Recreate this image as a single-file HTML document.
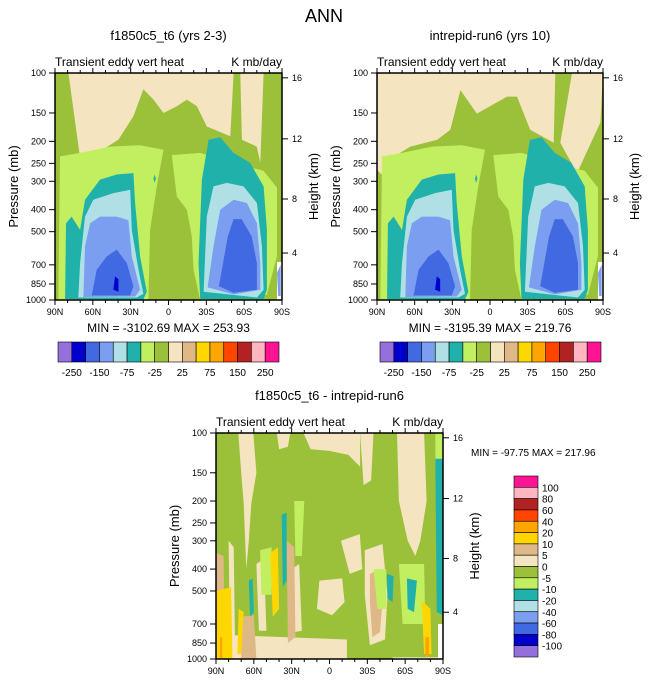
<!DOCTYPE html>
<html><head><meta charset="utf-8"><style>
html,body{margin:0;padding:0;background:#fff;}
svg{display:block;font-family:"Liberation Sans",Arial,sans-serif;}
</style></head><body>
<svg id="fig" width="648" height="684" viewBox="0 0 648 684" xmlns="http://www.w3.org/2000/svg">
<text x="324" y="22" font-size="18" text-anchor="middle">ANN</text>
</svg>
<script>
// ---- data ----
const latTicks = [90, 60, 30, 0, -30, -60, -90];
const latTickLabels = ["90N","60N","30N","0","30S","60S","90S"];
const presTicks = [100,150,200,250,300,400,500,700,850,1000];
const heightTicks = [16,12,8,4];
const heightTickPres = [105,195,359,621];
const cbLevelsTop = ["-250","-150","-75","-25","25","75","150","250"];
const cbColorsTop = ["#9370db","#0000cd","#4169e1","#7b9ef0","#b0e0e6","#20b2aa","#c1ef60","#9bc13a","#f5e4c0","#deb887","#ffd700","#ffa500","#ff4500","#b22222","#ffb6c1","#ff1493"];
const cbLevelsDiff = ["100","80","60","40","20","10","5","0","-5","-10","-20","-40","-60","-80","-100"];
const minMax = ["MIN = -3102.69  MAX = 253.93","MIN = -3195.39  MAX = 219.76","MIN = -97.75  MAX = 217.96"];

// contour regions: [color, [[lat,p],...]]
const wheatA = [[79.4,100],[70.1,237],[54.3,221],[39.7,197],[27.8,155],[19.9,118],[11.9,131],[4,150],[-6.6,140],[-14.6,131],[-22.5,140],[-30.4,172],[-49,190],[-51.6,100]];
const wheatA2 = [[-56.9,100],[-58.2,197],[-70,211],[-72.8,249],[-75.4,100]];
const wheatB = [[90,100],[90,267],[84.7,286],[76.7,234],[63.5,211],[42,197],[31.6,178],[23.6,119],[10.4,151],[-13.5,127],[-21.5,127],[-32,178],[-50.7,203],[-52,100]];
const wheatB2 = [[-65.3,100],[-56,203],[-69.3,276],[-87.9,165],[-90,100]];
const lgLeft = [[87.4,1000],[86,233],[70.1,225],[46.3,211],[22.5,208],[4,218],[9.3,316],[14.6,491],[15.9,1000]];
const lgRight = [[-2.6,230],[-25.1,225],[-51.6,249],[-75.4,270],[-86,320],[-86,640],[-78,950],[-25.1,1000],[-19.8,736],[-18.5,525],[-14.6,400],[-6.6,350]];
const tealL = [[82,990],[81.3,459],[76.8,429],[70.1,491],[66.2,362],[54.3,295],[41,280],[27.8,276],[26.5,374],[22.5,643],[17.2,920],[20,995]];
const lblueL = [[71.5,975],[70.1,688],[66.2,429],[59.6,362],[43.7,338],[30.4,327],[29.1,491],[23.8,736],[19.9,940],[25.2,975]];
const cornL = [[67.5,970],[66.2,580],[62.2,459],[54.3,429],[41,429],[31.8,445],[29.1,643],[22.5,902],[26.5,965]];
const royalL = [[60.9,955],[56.9,736],[49,643],[41,600],[33.1,688],[27.8,870],[30.4,955]];
const dkL = [[43.7,902],[42.4,787],[39.7,810],[39.7,920]];
const tealR = [[-25.1,990],[-23.8,688],[-26.5,295],[-31.8,197],[-41,192],[-51.6,225],[-64.8,249],[-75.4,316],[-78,491],[-78,902],[-75.4,990]];
const lblueR = [[-27.8,920],[-30.4,429],[-35.7,316],[-46.4,305],[-59.5,316],[-70.1,374],[-74.1,580],[-75.4,902],[-70.1,975]];
const cornR = [[-31,880],[-35.7,580],[-41,400],[-51.6,362],[-62.2,374],[-70.1,459],[-72.8,688],[-72.8,902],[-51.6,945]];
const royalR = [[-40,870],[-47,525],[-51.6,440],[-58,440],[-66,525],[-70.1,688],[-70.1,902],[-51.6,930]];
const whiteR = [[-86,680],[-90,680],[-90,1000],[-86,1000]];
const topRegions = [
  ["#c1ef60", lgLeft],["#c1ef60", lgRight],
  ["#20b2aa", tealL],["#b0e0e6", lblueL],["#7b9ef0", cornL],["#4169e1", royalL],["#0000cd", dkL],
  ["#20b2aa", tealR],["#b0e0e6", lblueR],["#7b9ef0", cornR],["#4169e1", royalR],
  ["#20b2aa", [[12,292],[11,280],[10,292],[11,305]]],
  ["#ffffff", whiteR],["#7b9ef0",[[-86,760],[-89,700],[-89,960],[-87,960]]]
];
const diffRegions = [
  ["#f5e4c0", [[72.3,100],[60.4,100],[58,150],[62,205],[64,300],[66,400],[68,205],[70,150]]],
  ["#f5e4c0", [[41.8,100],[31.2,100],[33,115],[40,118]]],
  ["#f5e4c0", [[20.6,100],[-24.3,100],[-24.3,141],[-15,125],[0,120],[15,118]]],
  ["#f5e4c0", [[-24.3,100],[-34.9,100],[-33,162],[-27,170]]],
  ["#f5e4c0", [[-53.5,100],[-75,100],[-77,200],[-72,300],[-68,350],[-62,300],[-55,200]]],
  ["#f5e4c0", [[8,450],[-10,440],[-12,560],[-2,640],[10,600]]],
  ["#f5e4c0", [[-9,300],[-24,280],[-26,400],[-16,420]]],
  ["#f5e4c0", [[80,300],[76,320],[75,800],[79,800]]],
  ["#f5e4c0", [[58,380],[52,360],[50,750],[56,750]]],
  ["#f5e4c0", [[30,400],[24,380],[22,750],[28,760]]],
  ["#f5e4c0", [[-28,330],[-42,310],[-46,520],[-44,820],[-32,870],[-28,520]]],
  ["#deb887", [[-32,420],[-40,400],[-42,560],[-40,760],[-34,800],[-32,560]]],
  ["#f5e4c0", [[89.5,780],[-13.8,820],[-13.8,1000],[89.5,1000]]],
  ["#deb887", [[34,300],[28,320],[27,800],[33,850]]],
  ["#deb887", [[89.5,340],[84,350],[83,1000],[89.5,1000]]],
  ["#deb887", [[70,650],[60,640],[58,1000],[70,1000]]],
  ["#c1ef60", [[-83.9,100],[-90,100],[-90,135],[-84,140]]],
  ["#c1ef60", [[55,330],[46,320],[46,520],[54,520]]],
  ["#c1ef60", [[-35,400],[-45,400],[-45,600],[-38,600]]],
  ["#c1ef60", [[-55,380],[-75,380],[-76,700],[-58,700]]],
  ["#c1ef60", [[28,200],[20,200],[22,350],[27,350]]],
  ["#ffd700", [[89.5,500],[78,480],[77,1000],[89.5,1000]]],
  ["#ffd700", [[47,340],[41,320],[40,600],[45,650]]],
  ["#ffd700", [[-73,550],[-80,600],[-81,950],[-75,950]]],
  ["#ffd700", [[72,600],[68,620],[70,950],[73,950]]],
  ["#ffa500", [[87,800],[85,800],[85,1000],[87,1000]]],
  ["#ffa500", [[-76,800],[-79,800],[-79,980],[-76,980]]],
  ["#20b2aa", [[37.9,230],[33.9,225],[34,450],[37,480]]],
  ["#20b2aa", [[64,450],[61,440],[60,620],[63,650]]],
  ["#20b2aa", [[-45.5,420],[-50.8,430],[-50,560],[-46,540]]],
  ["#20b2aa", [[-61.4,440],[-69.3,450],[-67,620],[-62,600]]],
  ["#20b2aa", [[-83.9,130],[-90,130],[-90,640],[-85,620]]],
  ["#ffffff", [[-50,985],[-86,985],[-86,1000],[-50,1000]]],
  ["#ffffff", [[-86,700],[-90,700],[-90,1000],[-86,1000]]]
];

// ---- drawing ----
const NS = "http://www.w3.org/2000/svg";
const svg = document.getElementById("fig");
function mk(tag, attrs, parent, txt){
  const e = document.createElementNS(NS, tag);
  for (const k in attrs) e.setAttribute(k, attrs[k]);
  if (txt !== undefined) e.textContent = txt;
  (parent||svg).appendChild(e);
  return e;
}
function makePanel(px, py, w, h, title, wheatList, regions, mm, name){
  const g = mk("g", {}, svg);
  
  
  const xOf = lat => px + (90 - lat) / 180 * w;
  const yOf = p => py + Math.log10(p / 100) * h;
  const t = mk("text", {x: px + w/2, y: py - 33, "font-size": 13, "text-anchor": "middle"}, g, title);
  
  
  const s1 = mk("text", {x: px, y: py - 7, "font-size": 12}, g, "Transient eddy vert heat");
  
  
  const s2 = mk("text", {x: px + w, y: py - 7, "font-size": 12, "text-anchor": "end"}, g, "K mb/day");
  
  
  const cid = "clip" + name;
  const cp = mk("clipPath", {id: cid}, g);
  mk("rect", {x: px, y: py, width: w, height: h}, cp);
  const pg = mk("g", {"clip-path": "url(#" + cid + ")"}, g);
  const bg = mk("rect", {x: px, y: py, width: w, height: h, fill: "#9bc13a"}, pg);
  
  
  const all = wheatList.map(r => ["#f5e4c0", r]).concat(regions);
  all.forEach(([col, pts]) => {
    const poly = mk("polygon", {points: pts.map(([la, p]) => xOf(la).toFixed(1) + "," + yOf(p).toFixed(1)).join(" "), fill: col}, pg);
    
    
  });
  const fr = mk("rect", {x: px, y: py, width: w, height: h, fill: "none", stroke: "#000", "stroke-width": 1.5}, g);
  
  
  for (let lat = 90; lat >= -90; lat -= 10) {
    const major = lat % 30 === 0;
    const x = xOf(lat);
    mk("line", {x1: x, x2: x, y1: py, y2: py - (major ? 5 : 3), stroke: "#000"}, g);
    mk("line", {x1: x, x2: x, y1: py + h, y2: py + h + (major ? 5 : 3), stroke: "#000"}, g);
  }
  latTicks.forEach((lat, i) => {
    const tl = mk("text", {x: xOf(lat), y: py + h + 15, "font-size": 9, "text-anchor": "middle"}, g, latTickLabels[i]);
    
    
  });
  presTicks.forEach(p => {
    const y = yOf(p);
    mk("line", {x1: px - 6, x2: px, y1: y, y2: y, stroke: "#000"}, g);
    const tl = mk("text", {x: px - 9, y: y + 3, "font-size": 9, "text-anchor": "end"}, g, String(p));
    
    
  });
  heightTicks.forEach((hk, i) => {
    const y = yOf(heightTickPres[i]);
    mk("line", {x1: px + w, x2: px + w + 6, y1: y, y2: y, stroke: "#000"}, g);
    const tl = mk("text", {x: px + w + 10, y: y + 3, "font-size": 9}, g, String(hk));
    
    
  });
  const yl = mk("text", {x: 0, y: 0, "font-size": 13, "text-anchor": "middle", transform: "translate(" + (px - 37) + "," + (py + h/2) + ") rotate(-90)"}, g, "Pressure (mb)");
  
  
  const hl = mk("text", {x: 0, y: 0, "font-size": 13, "text-anchor": "middle", transform: "translate(" + (px + w + 36) + "," + (py + h/2) + ") rotate(-90)"}, g, "Height (km)");
  
  
  if (mm) {
    const m = mk("text", {x: px + w/2, y: py + h + 32, "font-size": 12, "text-anchor": "middle"}, g, mm);
    
    
  }
}
function hColorbar(x, y, w, h, name){
  const g = mk("g", {}, svg);
  
  
  const bw = w / cbColorsTop.length;
  cbColorsTop.forEach((c, i) => {
    const r = mk("rect", {x: x + i*bw, y: y, width: bw, height: h, fill: c, stroke: "#000", "stroke-width": 0.6}, g);
    
    
  });
  cbLevelsTop.forEach((lab, i) => {
    const t = mk("text", {x: x + (2*i + 1)*bw, y: y + h + 14, "font-size": 10, "text-anchor": "middle"}, g, lab);
    
    
  });
}
function vColorbar(x, y, w, h){
  const g = mk("g", {}, svg);
  
  
  const cols = cbColorsTop.slice().reverse();
  const bh = h / cols.length;
  cols.forEach((c, i) => {
    const r = mk("rect", {x: x, y: y + i*bh, width: w, height: bh, fill: c, stroke: "#000", "stroke-width": 0.6}, g);
    
    
  });
  cbLevelsDiff.forEach((lab, i) => {
    const t = mk("text", {x: x + w + 4, y: y + (i+1)*bh + 4, "font-size": 10}, g, lab);
    
    
  });
}
makePanel(55, 73, 227, 227, "f1850c5_t6 (yrs 2-3)", [wheatA, wheatA2], topRegions, minMax[0], "panel-model1");
makePanel(377, 73, 226, 227, "intrepid-run6 (yrs 10)", [wheatB, wheatB2], topRegions, minMax[1], "panel-model2");
makePanel(216, 433, 227, 226, "f1850c5_t6 - intrepid-run6", [], diffRegions, null, "panel-difference");
hColorbar(58, 342, 221, 20, "colorbar-model1");
hColorbar(380, 342, 221, 20, "colorbar-model2");
vColorbar(514, 476, 24, 181);
const mm3 = mk("text", {x: 471, y: 456, "font-size": 10}, svg, minMax[2]);


</script>
</body></html>
